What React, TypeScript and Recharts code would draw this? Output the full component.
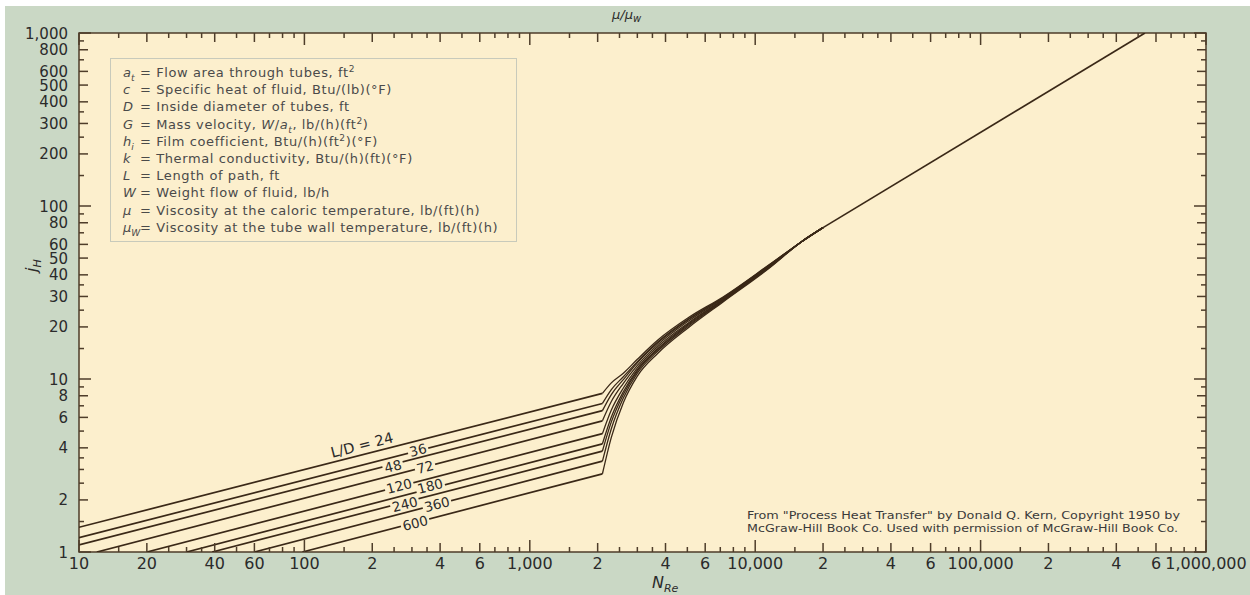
import React from "react";
import { LineChart, Line, XAxis, YAxis, ReferenceArea, ReferenceDot } from "recharts";

// L/D curves, laminar part: start point and kink at Re = 2100
const ldValues = [24, 36, 48, 72, 120, 180, 240, 360, 600];
const startRe = [10, 10, 10, 12, 20, 30, 39, 60, 98];
const startJh = [1.39, 1.21, 1.1, 1, 1, 1, 1, 1, 1];

// transition region per curve
const transRe = [2100, 2300, 2600, 3000, 3700, 5100, 7200, 11600, 16000, 20000];
const trans24 = [8.26, 9.5, 10.8, 13.0, 16.8, 22.8, 29.8, 46, 62, 75];
const trans36 = [7.22, 8.69, 10.3, 12.6, 16.4, 22.4, 29.5, 45.8, 62, 75];
const trans48 = [6.56, 8.13, 9.92, 12.4, 16.2, 22.2, 29.4, 45.6, 62, 75];
const trans72 = [5.73, 7.41, 9.44, 12.0, 15.8, 21.8, 29.1, 45.3, 62, 75];
const trans120 = [4.83, 6.61, 8.87, 11.6, 15.4, 21.3, 28.8, 45.0, 62, 75];
const trans180 = [4.22, 6.03, 8.44, 11.3, 15.0, 21.0, 28.6, 44.7, 62, 75];
const trans240 = [3.83, 5.65, 8.14, 11.1, 14.8, 20.7, 28.4, 44.5, 62, 75];
const trans360 = [3.35, 5.16, 7.76, 10.8, 14.5, 20.4, 28.2, 44.3, 62, 75];
const trans600 = [2.83, 4.6, 7.3, 10.4, 14.1, 20.0, 27.9, 44.0, 62, 75];
const transJh = [trans24, trans36, trans48, trans72, trans120, trans180, trans240, trans360, trans600];

// turbulent line (all curves merged)
const turbRe = [20000, 536000];
const turbJh = [75, 1000];

// curve labels
const tagText = ["L/D = 24", "36", "48", "72", "120", "180", "240", "360", "600"];
const tagRe = [180, 319, 247, 343, 263, 361, 279, 387, 310];
const tagJh = [4.15, 3.89, 3.14, 3.1, 2.41, 2.41, 1.89, 1.89, 1.47];

// axes
const tickSteps = [1, 1.5, 2, 2.5, 3, 3.5, 4, 5, 6, 7, 8, 9];
const xDecades = [10, 100, 1000, 10000, 100000, 1000000];
const yDecades = [1, 10, 100, 1000];
const xLabelValues = [10, 20, 40, 60, 100, 200, 400, 600, 1000, 2000, 4000, 6000, 10000, 20000, 40000, 60000, 100000, 200000, 400000, 600000, 1000000];
const xLabelTexts = ["10", "20", "40", "60", "100", "2", "4", "6", "1,000", "2", "4", "6", "10,000", "2", "4", "6", "100,000", "2", "4", "6", "1,000,000"];
const yLabelValues = [1, 2, 4, 6, 8, 10, 20, 30, 40, 50, 60, 80, 100, 200, 300, 400, 500, 600, 800, 1000];
const yLabelTexts = ["1", "2", "4", "6", "8", "10", "20", "30", "40", "50", "60", "80", "100", "200", "300", "400", "500", "600", "800", "1,000"];

const buildTicks = (decades: number[]) => {
  const out: number[] = [];
  decades.slice(0, -1).forEach((d) => tickSteps.forEach((s) => out.push(Math.round(d * s * 10) / 10)));
  out.push(decades[decades.length - 1]);
  return out;
};
const xTicks = buildTicks(xDecades);
const yTicks = buildTicks(yDecades);

const BG = "#cad8c5";
const CREAM = "#fcefcd";
const FRAME = "#4e3d2a";
const INK = "#3a2817";
const TXT = "#2b2b2b";
const FONT = "DejaVu Sans, Liberation Sans, sans-serif";

const tickLen = (v: number, decades: number[], labels: number[]) =>
  decades.includes(v) ? 12 : labels.includes(v) ? 9 : 5;

const BottomTick = (props: any) => {
  const { x, y, payload } = props;
  const v = payload.value;
  const i = xLabelValues.indexOf(v);
  const len = tickLen(v, xDecades, xLabelValues);
  return (
    <g>
      <line x1={x} y1={y} x2={x} y2={y - len} stroke={FRAME} strokeWidth={1.5} />
      {i >= 0 && (
        <text x={x} y={y + 17} textAnchor="middle" fontSize={16} fill={TXT} fontFamily={FONT}>
          {xLabelTexts[i]}
        </text>
      )}
    </g>
  );
};

const TopTick = (props: any) => {
  const { x, y, payload } = props;
  const len = tickLen(payload.value, xDecades, xLabelValues);
  return <line x1={x} y1={y} x2={x} y2={y + len} stroke={FRAME} strokeWidth={1.5} />;
};

const LeftTick = (props: any) => {
  const { x, y, payload } = props;
  const v = payload.value;
  const i = yLabelValues.indexOf(v);
  const len = tickLen(v, yDecades, yLabelValues);
  return (
    <g>
      <line x1={x} y1={y} x2={x + len} y2={y} stroke={FRAME} strokeWidth={1.5} />
      {i >= 0 && (
        <text x={x - 11} y={y + 5.5} textAnchor="end" fontSize={15} fill={TXT} fontFamily={FONT}>
          {yLabelTexts[i]}
        </text>
      )}
    </g>
  );
};

const RightTick = (props: any) => {
  const { x, y, payload } = props;
  const len = tickLen(payload.value, yDecades, yLabelValues);
  return <line x1={x} y1={y} x2={x - len} y2={y} stroke={FRAME} strokeWidth={1.5} />;
};

const Tag = ({ cx, cy, text, plain }: { cx: number; cy: number; text: string; plain: boolean }) => {
  const w = text.length * 8.4 + 4;
  return (
    <g transform={`translate(${cx},${cy}) rotate(-14.4)`}>
      {!plain && <rect x={-w / 2} y={-5.5} width={w} height={11} fill={CREAM} />}
      <text x={0} y={5} textAnchor="middle" fontSize={plain ? 14.5 : 13.5} fill={TXT} fontFamily={FONT}>
        {text}
      </text>
    </g>
  );
};

const subSt = { fontSize: "0.7em", lineHeight: 0 };
const sup2 = <sup style={subSt}>2</sup>;
const legendRows: React.ReactNode[] = [
  <i>a<sub style={subSt}>t</sub></i>,
  <i>c</i>,
  <i>D</i>,
  <i>G</i>,
  <i>h<sub style={subSt}>i</sub></i>,
  <i>k</i>,
  <i>L</i>,
  <i>W</i>,
  <i>μ</i>,
  <i>μ<sub style={subSt}>W</sub></i>,
];
const legendTexts: React.ReactNode[] = [
  <>= Flow area through tubes, ft{sup2}</>,
  <>= Specific heat of fluid, Btu/(lb)(°F)</>,
  <>= Inside diameter of tubes, ft</>,
  <>= Mass velocity, <i>W</i>/<i>a<sub style={subSt}>t</sub></i>, lb/(h)(ft{sup2})</>,
  <>= Film coefficient, Btu/(h)(ft{sup2})(°F)</>,
  <>= Thermal conductivity, Btu/(h)(ft)(°F)</>,
  <>= Length of path, ft</>,
  <>= Weight flow of fluid, lb/h</>,
  <>= Viscosity at the caloric temperature, lb/(ft)(h)</>,
  <>= Viscosity at the tube wall temperature, lb/(ft)(h)</>,
];

export default function App() {
  return (
    <div style={{ position: "absolute", left: 0, top: 0, width: 1250, height: 595, background: BG, fontFamily: FONT, overflow: "hidden" }}>
      <LineChart width={1250} height={595} margin={{ top: 32, right: 43, bottom: 42, left: 78 }}>
        <ReferenceArea xAxisId="b" yAxisId="l" x1={10} x2={1000000} y1={1} y2={1000} fill={CREAM} fillOpacity={1} stroke={FRAME} strokeWidth={1.5} zIndex={-10} />
        <XAxis xAxisId="b" type="number" dataKey="re" scale="log" domain={[10, 1000000]} allowDataOverflow ticks={xTicks}
          interval={0} tick={(p: any) => <BottomTick {...p} />} tickLine={false} axisLine={false} tickSize={0} tickMargin={0} height={1} />
        <XAxis xAxisId="t" orientation="top" type="number" dataKey="re" scale="log" domain={[10, 1000000]} allowDataOverflow ticks={xTicks}
          interval={0} tick={(p: any) => <TopTick {...p} />} tickLine={false} axisLine={false} tickSize={0} tickMargin={0} height={1} />
        <YAxis yAxisId="l" type="number" scale="log" domain={[1, 1000]} allowDataOverflow ticks={yTicks}
          interval={0} tick={(p: any) => <LeftTick {...p} />} tickLine={false} axisLine={false} tickSize={0} tickMargin={0} width={1} />
        <YAxis yAxisId="r" orientation="right" type="number" scale="log" domain={[1, 1000]} allowDataOverflow ticks={yTicks}
          interval={0} tick={(p: any) => <RightTick {...p} />} tickLine={false} axisLine={false} tickSize={0} tickMargin={0} width={1} />

        {ldValues.map((ld, i) => (
          <Line key={`lam${ld}`} xAxisId="b" yAxisId="l" type="linear" dataKey="jh"
            data={[{ re: startRe[i], jh: startJh[i] }, { re: transRe[0], jh: transJh[i][0] }]}
            stroke={INK} strokeWidth={1.7} dot={false} activeDot={false} isAnimationActive={false} />
        ))}
        {ldValues.map((ld, i) => (
          <Line key={`tr${ld}`} xAxisId="b" yAxisId="l" type="monotone" dataKey="jh"
            data={transRe.map((re, k) => ({ re, jh: transJh[i][k] }))}
            stroke={INK} strokeWidth={1.3} dot={false} activeDot={false} isAnimationActive={false} />
        ))}
        <Line xAxisId="b" yAxisId="l" type="linear" dataKey="jh"
          data={turbRe.map((re, k) => ({ re, jh: turbJh[k] }))}
          stroke={INK} strokeWidth={1.7} dot={false} activeDot={false} isAnimationActive={false} />

        {tagText.map((t, i) => (
          <ReferenceDot key={t} xAxisId="b" yAxisId="l" x={tagRe[i]} y={tagJh[i]} r={0} zIndex={1000}
            shape={(p: any) => <Tag cx={p.cx} cy={p.cy} text={t} plain={i === 0} />} />
        ))}
      </LineChart>

      <svg width={1250} height={595} style={{ position: "absolute", left: 0, top: 0, pointerEvents: "none" }}>
        <text x={612} y={19} fontSize={13} fontStyle="italic" fill={TXT} fontFamily={FONT}>
          μ/μ<tspan fontSize={10} dy={3}>w</tspan>
        </text>
        <text transform="translate(37,272) rotate(-90)" fontSize={16} fontStyle="italic" fill={TXT} fontFamily={FONT}>
          j<tspan fontSize={11} dy={4}>H</tspan>
        </text>
        <text x={652} y={588} fontSize={16} fontStyle="italic" fill={TXT} fontFamily={FONT}>
          N<tspan fontSize={11} dy={4}>Re</tspan>
        </text>
        <text x={747} y={519} fontSize={11} fill="#3a3a3a" fontFamily={FONT} textLength={433} lengthAdjust="spacingAndGlyphs">
          From "Process Heat Transfer" by Donald Q. Kern, Copyright 1950 by
        </text>
        <text x={747} y={532} fontSize={11} fill="#3a3a3a" fontFamily={FONT} textLength={431} lengthAdjust="spacingAndGlyphs">
          McGraw-Hill Book Co. Used with permission of McGraw-Hill Book Co.
        </text>
        <rect x={0} y={0} width={1250} height={6} fill="#ffffff" />
        <rect x={0} y={0} width={5} height={595} fill="#ffffff" />
      </svg>

      <div style={{ position: "absolute", left: 110, top: 58, width: 407, height: 184, boxSizing: "border-box", border: "1.5px solid #c8cabb",
        background: CREAM, paddingTop: 5, paddingLeft: 12, fontSize: 13, letterSpacing: 0.6, color: "#4a4a4a", fontFamily: FONT }}>
        {legendRows.map((sym, i) => (
          <div key={i} style={{ height: 17.2, lineHeight: "17.2px", whiteSpace: "nowrap" }}>
            <span style={{ display: "inline-block", width: 17, letterSpacing: 0 }}>{sym}</span>
            {legendTexts[i]}
          </div>
        ))}
      </div>
    </div>
  );
}
